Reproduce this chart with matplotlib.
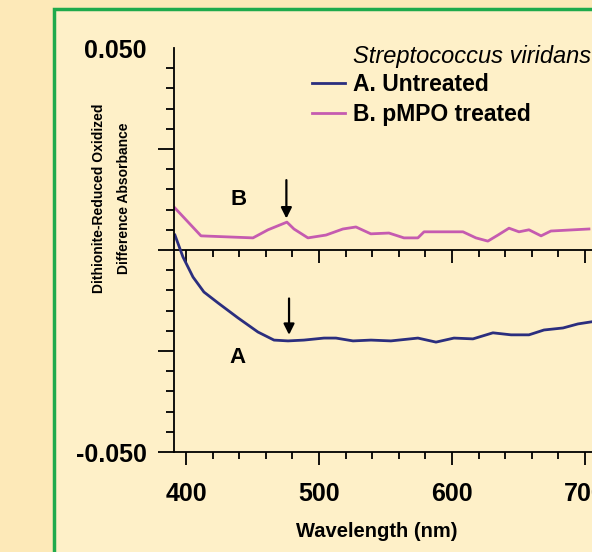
import matplotlib.pyplot as plt
from matplotlib.lines import Line2D
from matplotlib.ticker import MultipleLocator, FixedLocator

plt.rcParams['font.family'] = ['Liberation Sans', 'DejaVu Sans']

# curve A: untreated
wl_a = [391.7, 397.7, 405.3, 413.5, 424.1, 439.1, 454.1, 466.2, 476.7, 488.7,
        503.8, 512.8, 525.6, 539.1, 554.1, 574.4, 588.0, 601.5, 615.8, 630.8,
        644.4, 657.9, 669.2, 683.5, 694.7, 704.5]
abs_a = [0.0037, -0.0017, -0.0067, -0.0104, -0.0131, -0.0168, -0.0203, -0.0223,
         -0.0225, -0.0223, -0.0218, -0.0218, -0.0225, -0.0223, -0.0225, -0.0218,
         -0.0228, -0.0218, -0.0220, -0.0205, -0.0210, -0.0210, -0.0198, -0.0193,
         -0.0183, -0.0178]

# curve B: pMPO treated
wl_b = [391.7, 411.3, 450.4, 461.7, 475.9, 481.2, 491.7, 505.3, 518.0, 527.8,
        539.0, 552.6, 563.9, 574.4, 579.0, 608.3, 618.0, 627.0, 634.6, 642.9,
        650.4, 657.9, 667.0, 674.4, 703.0]
abs_b = [0.0104, 0.0035, 0.0030, 0.0050, 0.0069, 0.0052, 0.0030, 0.0037, 0.0052,
         0.0057, 0.0040, 0.0042, 0.0030, 0.0030, 0.0045, 0.0045, 0.0030, 0.0022,
         0.0037, 0.0054, 0.0045, 0.0050, 0.0035, 0.0047, 0.0052]

arrow_wl = [475.5, 477.5]
arrow_tip = [0.0078, -0.0210]
arrow_tail = [0.0173, -0.0120]

col_a = '#2b2e7e'
col_b = '#c55bb0'
bg_out = '#fde9b8'
bg_in = '#fef0c8'
green = '#1faa4c'

fig = plt.figure(figsize=(5.92, 5.52), dpi=100, facecolor=bg_out)
# framed panel
fig.patches.append(plt.Rectangle((54 / 592, -0.1), 1.2, (552 - 9) / 552 + 0.1,
                                 transform=fig.transFigure, facecolor=bg_in,
                                 edgecolor=green, linewidth=2.5, zorder=-10))

ax = fig.add_axes([174 / 592, 100 / 552, 418 / 592, 404 / 552])
ax.set_facecolor('none')
ax.set_xlim(391, 705.3)
ax.set_ylim(-0.05, 0.05)

ax.plot(wl_a, abs_a, color=col_a, lw=2.0, solid_joinstyle='round')
ax.plot(wl_b, abs_b, color=col_b, lw=2.0, solid_joinstyle='round')

for x, t, s in zip(arrow_wl, arrow_tip, arrow_tail):
    ax.annotate('', xy=(x, t), xytext=(x, s),
                arrowprops=dict(arrowstyle='-|>', color='black', lw=1.6,
                                mutation_scale=16, shrinkA=0, shrinkB=0))

ax.text(439.8, 0.0126, 'B', fontsize=16, fontweight='bold', ha='center', va='center')
ax.text(438.5, -0.0265, 'A', fontsize=16, fontweight='bold', ha='center', va='center')

for s in ['top', 'right']:
    ax.spines[s].set_visible(False)
for s in ['left', 'bottom']:
    ax.spines[s].set_linewidth(1.3)

ax.xaxis.set_major_locator(FixedLocator([400, 500, 600, 700]))
ax.xaxis.set_minor_locator(MultipleLocator(20))
ax.yaxis.set_major_locator(FixedLocator([-0.05, -0.025, 0, 0.025, 0.05]))
ax.yaxis.set_minor_locator(MultipleLocator(0.005))
ax.set_yticklabels(['-0.050', '', '', '', '0.050'])
ax.yaxis.get_major_ticks()[-1].tick1line.set_visible(False)

ax.tick_params(axis='x', which='major', length=9.5, width=1.3, pad=12,
               labelsize=18)
ax.tick_params(axis='x', which='minor', length=5, width=1.3)
ax.tick_params(axis='y', which='major', length=11.5, width=1.3, pad=8,
               labelsize=18)
ax.tick_params(axis='y', which='minor', length=6, width=1.3)
for lab in ax.get_xticklabels() + ax.get_yticklabels():
    lab.set_fontweight('bold')

# zero line with its own ticks
zero = ax.secondary_xaxis(0.4999)
zero.xaxis.set_major_locator(FixedLocator([400, 500, 600, 700]))
zero.xaxis.set_minor_locator(MultipleLocator(20))
zero.tick_params(axis='x', which='major', length=9.5, width=1.3, labelbottom=False)
zero.tick_params(axis='x', which='minor', length=5, width=1.3)
zero.spines['bottom'].set_linewidth(1.3)
zero.spines['top'].set_visible(False)

ax.set_xlabel('Wavelength (nm)', fontsize=14.5, fontweight='bold')
ax.xaxis.set_label_coords((377 - 174) / 418, (452 - 522) / 404)
ax.set_ylabel('Dithionite-Reduced Oxidized\nDifference Absorbance', fontsize=10,
              fontweight='bold', linespacing=2.0)
ax.yaxis.set_label_coords((131 - 174) / 418, (452 - 198) / 404)

ax.text((353 - 174) / 418, (452 - 57) / 404, 'Streptococcus viridans',
        transform=ax.transAxes, fontsize=17, fontstyle='italic', va='center')
handles = [Line2D([], [], color=col_a, lw=2), Line2D([], [], color=col_b, lw=2)]
ax.legend(handles, ['A. Untreated', 'B. pMPO treated'], loc='upper left',
          bbox_to_anchor=((312 - 174) / 418, (452 - 73) / 404), frameon=False,
          borderpad=0, borderaxespad=0, handlelength=1.45, handletextpad=0.33,
          labelspacing=0.3, prop={'size': 16.5, 'weight': 'bold'})

fig.savefig('out.png', dpi=100, facecolor=bg_out)
